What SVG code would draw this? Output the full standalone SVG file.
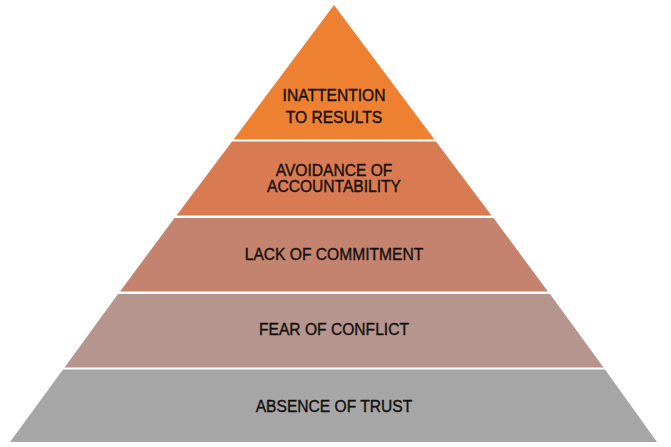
<svg xmlns="http://www.w3.org/2000/svg" width="671" height="447" viewBox="0 0 671 447">
<style>
text{font-family:"Liberation Sans",Arial,sans-serif;font-size:15.6px;fill:#140f0c;stroke:#140f0c;stroke-width:0.35;text-anchor:middle}
</style>
<rect width="671" height="447" fill="#ffffff"/>
<g id="layer1"><polygon points="334,5 434.5,139.5 233.5,139.5" fill="#ED8031"/><text x="334" y="101">INATTENTION</text><text x="334" y="123">TO RESULTS</text></g>
<g id="layer2"><polygon points="232,141.5 436,141.5 491.5,215.5 176.5,215.5" fill="#D97B52"/><text x="334" y="176">AVOIDANCE OF</text><text x="334" y="192">ACCOUNTABILITY</text></g>
<g id="layer3"><polygon points="174.5,218 493.5,218 548,291.5 120,291.5" fill="#C4836F"/><text x="334" y="260">LACK OF COMMITMENT</text></g>
<g id="layer4"><polygon points="118,294 550,294 603.5,367.5 64.5,367.5" fill="#B5958E"/><text x="334" y="335">FEAR OF CONFLICT</text></g>
<g id="layer5"><polygon points="63,369.5 605,369.5 657,442 10,442" fill="#A6A6A6"/><text x="334" y="412">ABSENCE OF TRUST</text></g>
<g id="connectors"></g>
</svg>
